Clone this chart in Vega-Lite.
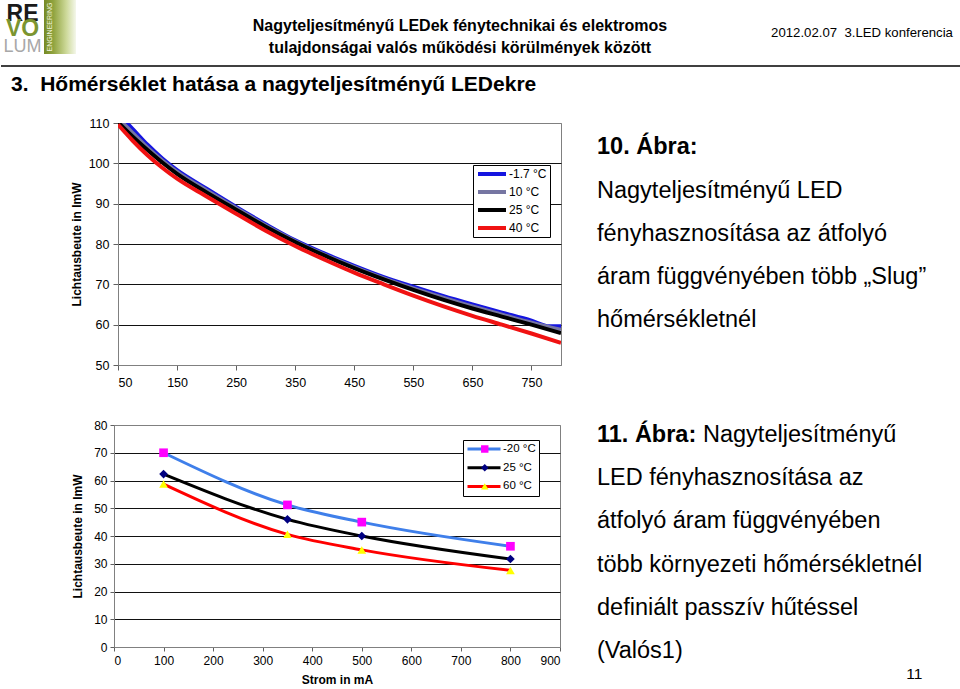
{
  "$schema": "https://vega.github.io/schema/vega-lite/v6.json",
  "background": "white",
  "padding": 0,
  "spacing": 0,
  "resolve": {
    "scale": {"color": "independent", "fill": "independent", "shape": "independent"},
    "legend": {"color": "independent", "fill": "independent", "shape": "independent"}
  },
  "config": {
    "view": {"stroke": null},
    "font": "Liberation Sans",
    "text": {"font": "Liberation Sans", "color": "#000"},
    "axis": {"labelFont": "Liberation Sans", "titleFont": "Liberation Sans", "labelColor": "#000", "titleColor": "#000", "domainColor": "#808080", "tickColor": "#606060"},
    "legend": {"labelFont": "Liberation Sans", "labelColor": "#000"},
    "title": {"font": "Liberation Sans", "color": "#000"}
  },
  "datasets": {
    "c1": [
      {"series": "-1.7 °C", "current": 50, "lm": 112.3}, {"series": "-1.7 °C", "current": 75, "lm": 108.5}, {"series": "-1.7 °C", "current": 100, "lm": 104.6}, {"series": "-1.7 °C", "current": 125, "lm": 101.2}, {"series": "-1.7 °C", "current": 150, "lm": 98.3}, {"series": "-1.7 °C", "current": 200, "lm": 93.7}, {"series": "-1.7 °C", "current": 250, "lm": 89.2}, {"series": "-1.7 °C", "current": 300, "lm": 84.9}, {"series": "-1.7 °C", "current": 350, "lm": 80.9}, {"series": "-1.7 °C", "current": 400, "lm": 77.6}, {"series": "-1.7 °C", "current": 450, "lm": 74.6}, {"series": "-1.7 °C", "current": 500, "lm": 71.8}, {"series": "-1.7 °C", "current": 550, "lm": 69.4}, {"series": "-1.7 °C", "current": 600, "lm": 67.1}, {"series": "-1.7 °C", "current": 650, "lm": 65.0}, {"series": "-1.7 °C", "current": 700, "lm": 63.0}, {"series": "-1.7 °C", "current": 750, "lm": 61.0}, {"series": "-1.7 °C", "current": 780, "lm": 59.6}, {"series": "-1.7 °C", "current": 800, "lm": 59.6},
      {"series": "10 °C", "current": 50, "lm": 111.2}, {"series": "10 °C", "current": 75, "lm": 107.5}, {"series": "10 °C", "current": 100, "lm": 103.9}, {"series": "10 °C", "current": 125, "lm": 100.7}, {"series": "10 °C", "current": 150, "lm": 97.9}, {"series": "10 °C", "current": 200, "lm": 93.3}, {"series": "10 °C", "current": 250, "lm": 88.9}, {"series": "10 °C", "current": 300, "lm": 84.6}, {"series": "10 °C", "current": 350, "lm": 80.7}, {"series": "10 °C", "current": 400, "lm": 77.3}, {"series": "10 °C", "current": 450, "lm": 74.3}, {"series": "10 °C", "current": 500, "lm": 71.5}, {"series": "10 °C", "current": 550, "lm": 69.0}, {"series": "10 °C", "current": 600, "lm": 66.7}, {"series": "10 °C", "current": 650, "lm": 64.5}, {"series": "10 °C", "current": 700, "lm": 62.5}, {"series": "10 °C", "current": 750, "lm": 60.5}, {"series": "10 °C", "current": 800, "lm": 58.7},
      {"series": "25 °C", "current": 50, "lm": 110.2}, {"series": "25 °C", "current": 75, "lm": 106.6}, {"series": "25 °C", "current": 100, "lm": 103.3}, {"series": "25 °C", "current": 125, "lm": 100.2}, {"series": "25 °C", "current": 150, "lm": 97.4}, {"series": "25 °C", "current": 200, "lm": 92.8}, {"series": "25 °C", "current": 250, "lm": 88.5}, {"series": "25 °C", "current": 300, "lm": 84.3}, {"series": "25 °C", "current": 350, "lm": 80.5}, {"series": "25 °C", "current": 400, "lm": 77.1}, {"series": "25 °C", "current": 450, "lm": 74.0}, {"series": "25 °C", "current": 500, "lm": 71.2}, {"series": "25 °C", "current": 550, "lm": 68.6}, {"series": "25 °C", "current": 600, "lm": 66.2}, {"series": "25 °C", "current": 650, "lm": 64.0}, {"series": "25 °C", "current": 700, "lm": 62.0}, {"series": "25 °C", "current": 750, "lm": 60.0}, {"series": "25 °C", "current": 800, "lm": 57.9},
      {"series": "40 °C", "current": 50, "lm": 109.6}, {"series": "40 °C", "current": 75, "lm": 105.6}, {"series": "40 °C", "current": 100, "lm": 102.0}, {"series": "40 °C", "current": 125, "lm": 98.9}, {"series": "40 °C", "current": 150, "lm": 96.2}, {"series": "40 °C", "current": 200, "lm": 91.8}, {"series": "40 °C", "current": 250, "lm": 87.5}, {"series": "40 °C", "current": 300, "lm": 83.3}, {"series": "40 °C", "current": 350, "lm": 79.5}, {"series": "40 °C", "current": 400, "lm": 76.1}, {"series": "40 °C", "current": 450, "lm": 72.9}, {"series": "40 °C", "current": 500, "lm": 70.0}, {"series": "40 °C", "current": 550, "lm": 67.2}, {"series": "40 °C", "current": 600, "lm": 64.6}, {"series": "40 °C", "current": 650, "lm": 62.2}, {"series": "40 °C", "current": 700, "lm": 60.0}, {"series": "40 °C", "current": 750, "lm": 57.8}, {"series": "40 °C", "current": 800, "lm": 55.5}
    ],
    "c2": [
      {"series": "-20 °C", "current": 100, "lm": 70}, {"series": "-20 °C", "current": 350, "lm": 51.2}, {"series": "-20 °C", "current": 500, "lm": 45}, {"series": "-20 °C", "current": 800, "lm": 36.3},
      {"series": "25 °C", "current": 100, "lm": 62.3}, {"series": "25 °C", "current": 350, "lm": 46}, {"series": "25 °C", "current": 500, "lm": 40}, {"series": "25 °C", "current": 800, "lm": 31.7},
      {"series": "60 °C", "current": 100, "lm": 58.7}, {"series": "60 °C", "current": 350, "lm": 40.6}, {"series": "60 °C", "current": 500, "lm": 35}, {"series": "60 °C", "current": 800, "lm": 27.6}
    ],
    "logo": [{"part": "RE"}, {"part": "VO"}, {"part": "LUM"}]
  },
  "vconcat": [
    {
      "hconcat": [
        {
          "width": 43, "height": 55,
          "data": {"name": "logo"},
          "encoding": {
            "y": {"field": "part", "type": "ordinal", "sort": ["RE", "VO", "LUM"], "scale": {"type": "point", "padding": 0.774, "align": 0.8625}, "axis": null},
            "text": {"field": "part"}
          },
          "layer": [
            {"transform": [{"filter": "datum.part === 'RE'"}], "mark": {"type": "text", "fontSize": 23, "fontWeight": "bold", "align": "center", "baseline": "alphabetic", "color": "#1a1a1a"}},
            {"transform": [{"filter": "datum.part === 'VO'"}], "mark": {"type": "text", "fontSize": 23, "fontWeight": "bold", "align": "center", "baseline": "alphabetic", "color": "#7b9530"}},
            {"transform": [{"filter": "datum.part === 'LUM'"}], "mark": {"type": "text", "fontSize": 18, "align": "center", "baseline": "alphabetic", "color": "#a8a8a8"}}
          ]
        },
        {
          "width": 32, "height": 54,
          "data": {"values": [{"word": "ENGINEERING"}]},
          "layer": [
            {"mark": {"type": "rect", "color": {"gradient": "linear", "x1": 0, "x2": 1, "y1": 0, "y2": 0, "stops": [{"offset": 0, "color": "#758a25"}, {"offset": 0.3, "color": "#91a440"}, {"offset": 0.7, "color": "#cdd99a"}, {"offset": 1, "color": "#f4f7ea"}]}}, "encoding": {}},
            {"mark": {"type": "text", "angle": 270, "fontSize": 7, "color": "#eef3dc", "align": "center", "baseline": "middle", "dy": -10}, "encoding": {"text": {"field": "word"}}}
          ]
        },
        {
          "width": 768, "height": 65,
          "data": {"values": [{"line": 1, "text": "Nagyteljesítményű LEDek fénytechnikai és elektromos"}, {"line": 2, "text": "tulajdonságai valós működési körülmények között"}]},
          "mark": {"type": "text", "fontSize": 16, "fontWeight": "bold", "align": "center", "baseline": "alphabetic"},
          "encoding": {
            "y": {"field": "line", "type": "ordinal", "scale": {"type": "point", "padding": 1.167, "align": 0.725}, "axis": null},
            "text": {"field": "text"}
          }
        },
        {
          "width": 36, "height": 65,
          "data": {"values": [{"text": "2012.02.07\u00a0 3.LED konferencia"}]},
          "mark": {"type": "text", "fontSize": 13.2, "align": "center", "baseline": "middle"},
          "encoding": {"text": {"field": "text"}}
        }
      ],
      "spacing": 0,
      "bounds": "flush"
    },
    {
      "width": 960, "height": 50,
      "data": {"values": [{"title": "3.\u00a0 Hőmérséklet hatása a nagyteljesítményű LEDekre"}]},
      "layer": [
        {"mark": {"type": "rule", "color": "#404040", "strokeWidth": 2}, "encoding": {"y": {"datum": 1, "type": "quantitative", "scale": {"domain": [0, 1]}, "axis": null}}},
        {"mark": {"type": "text", "align": "left", "baseline": "alphabetic", "fontSize": 21, "fontWeight": "bold", "dx": 10},
         "encoding": {"x": {"datum": 0, "type": "quantitative", "scale": {"domain": [0, 1]}, "axis": null}, "y": {"datum": 0.5, "type": "quantitative", "axis": null}, "text": {"field": "title"}}}
      ]
    },
    {
      "hconcat": [
        {"width": 81, "height": 295, "data": {"values": []}, "mark": "point"},
        {
          "width": 443, "height": 242,
          "view": {"stroke": "#808080"},
          "data": {"name": "c1"},
          "mark": {"type": "line", "strokeWidth": 4, "interpolate": "monotone", "clip": true},
          "encoding": {
            "x": {"field": "current", "type": "quantitative", "scale": {"domain": [50, 800], "nice": false, "zero": false},
              "axis": {"title": null, "values": [50, 150, 250, 350, 450, 550, 650, 750], "grid": false, "tickSize": 5, "labelPadding": 6, "labelFontSize": 12.5}},
            "y": {"field": "lm", "type": "quantitative", "scale": {"domain": [50, 110], "nice": false, "zero": false},
              "axis": {"title": "Lichtausbeute in lmW", "values": [50, 60, 70, 80, 90, 100, 110], "grid": true,
                "gridColor": {"condition": {"test": "datum.value >= 110 || datum.value <= 50", "value": "#808080"}, "value": "#111111"},
                "gridWidth": 1.2, "tickSize": 5, "labelPadding": 4, "labelFontSize": 12.5, "titleFontSize": 12, "titleFontWeight": "bold", "titlePadding": 5}},
            "color": {"field": "series", "type": "nominal",
              "scale": {"domain": ["-1.7 °C", "10 °C", "25 °C", "40 °C"], "range": ["#1515e0", "#7676a2", "#000000", "#f01212"]},
              "legend": {"orient": "none", "legendX": 472, "legendY": 42, "title": null, "symbolType": "stroke", "symbolSize": 784, "symbolStrokeWidth": 4, "labelFontSize": 12, "padding": 3, "strokeColor": "#000", "fillColor": "#fff", "clipHeight": 12, "rowPadding": 6, "labelOffset": 1}}
          }
        },
        {
          "width": 300, "height": 235.8,
          "data": {"values": [
            {"line": 1, "text": "10. Ábra:"},
            {"line": 2, "text": "Nagyteljesítményű LED"},
            {"line": 3, "text": "fényhasznosítása az átfolyó"},
            {"line": 4, "text": "áram függvényében több „Slug”"},
            {"line": 5, "text": "hőmérsékletnél"}
          ]},
          "encoding": {
            "x": {"datum": 0, "type": "quantitative", "scale": {"domain": [0, 1]}, "axis": null},
            "y": {"field": "line", "type": "ordinal", "scale": {"type": "point", "padding": 0.723}, "axis": null},
            "text": {"field": "text"}
          },
          "layer": [
            {"transform": [{"filter": "datum.line === 1"}], "mark": {"type": "text", "align": "left", "baseline": "alphabetic", "fontSize": 23.5, "fontWeight": "bold"}},
            {"transform": [{"filter": "datum.line > 1"}], "mark": {"type": "text", "align": "left", "baseline": "alphabetic", "fontSize": 23.5}}
          ]
        }
      ],
      "spacing": 36,
      "bounds": "flush"
    },
    {
      "hconcat": [
        {"width": 76, "height": 10, "data": {"values": []}, "mark": "point"},
        {
          "width": 446, "height": 222,
          "view": {"stroke": "#808080"},
          "data": {"name": "c2"},
          "encoding": {
            "x": {"field": "current", "type": "quantitative", "scale": {"domain": [0, 900], "nice": false},
              "axis": {"title": "Strom in mA", "values": [0, 100, 200, 300, 400, 500, 600, 700, 800, 900], "grid": false, "tickSize": 4, "labelPadding": 4, "labelFontSize": 12, "titleFontSize": 12, "titleFontWeight": "bold", "titlePadding": 8}},
            "y": {"field": "lm", "type": "quantitative", "scale": {"domain": [0, 80], "nice": false},
              "axis": {"title": "Lichtausbeute in lmW", "values": [0, 10, 20, 30, 40, 50, 60, 70, 80], "grid": true,
                "gridColor": {"condition": {"test": "datum.value >= 80 || datum.value <= 0", "value": "#808080"}, "value": "#111111"},
                "gridWidth": 1.2, "tickSize": 4, "labelPadding": 3, "labelFontSize": 12, "titleFontSize": 12, "titleFontWeight": "bold", "titlePadding": 9}}
          },
          "layer": [
            {"mark": {"type": "line", "strokeWidth": 3, "interpolate": "monotone"},
             "encoding": {"color": {"field": "series", "type": "nominal",
               "scale": {"domain": ["-20 °C", "25 °C", "60 °C"], "range": ["#3f7fea", "#000000", "#ff0000"]},
               "legend": {"orient": "none", "legendX": 462, "legendY": 15, "title": null, "symbolType": "stroke", "symbolSize": 1089, "symbolStrokeWidth": 3, "labelFontSize": 11.5, "padding": 3, "strokeColor": "#000", "fillColor": "#fff", "clipHeight": 12, "rowPadding": 6.7, "labelOffset": 1}}}},
            {"mark": {"type": "point", "filled": true, "size": 75, "strokeWidth": 0, "opacity": 1},
             "encoding": {
               "fill": {"field": "series", "type": "nominal", "scale": {"range": ["#ff00ff", "#000080", "#ffff00"]},
                 "legend": {"orient": "none", "legendX": 462, "legendY": 15, "title": null, "symbolSize": 55, "symbolStrokeWidth": 0, "labelFontSize": 11.5, "labelExpr": "''", "padding": 3, "clipHeight": 12, "rowPadding": 6.7, "labelOffset": 1, "symbolOffset": 13}},
               "shape": {"field": "series", "type": "nominal", "scale": {"range": ["square", "diamond", "triangle-up"]},
                 "legend": {"orient": "none", "legendX": 462, "legendY": 15, "title": null, "symbolSize": 55, "symbolStrokeWidth": 0, "labelFontSize": 11.5, "labelExpr": "''", "padding": 3, "clipHeight": 12, "rowPadding": 6.7, "labelOffset": 1, "symbolOffset": 13}}
             }}
          ]
        },
        {
          "width": 304, "height": 249.9,
          "title": {"text": "11", "orient": "bottom", "anchor": "end", "fontSize": 15.5, "fontWeight": "normal", "baseline": "alphabetic", "offset": 4},
          "data": {"values": [
            {"line": 1, "part": "label", "text": "11. Ábra:"},
            {"line": 1, "part": "rest", "text": "Nagyteljesítményű"},
            {"line": 2, "part": "body", "text": "LED fényhasznosítása az"},
            {"line": 3, "part": "body", "text": "átfolyó áram függvényében"},
            {"line": 4, "part": "body", "text": "több környezeti hőmérsékletnél"},
            {"line": 5, "part": "body", "text": "definiált passzív hűtéssel"},
            {"line": 6, "part": "body", "text": "(Valós1)"}
          ]},
          "encoding": {
            "x": {"datum": 0, "type": "quantitative", "scale": {"domain": [0, 1]}, "axis": null},
            "y": {"field": "line", "type": "ordinal", "scale": {"type": "point", "padding": 0.386}, "axis": null},
            "text": {"field": "text"}
          },
          "layer": [
            {"transform": [{"filter": "datum.part === 'label'"}], "mark": {"type": "text", "align": "left", "baseline": "alphabetic", "fontSize": 23.5, "fontWeight": "bold"}},
            {"transform": [{"filter": "datum.part === 'rest'"}], "mark": {"type": "text", "align": "left", "baseline": "alphabetic", "fontSize": 23.5, "dx": 106}},
            {"transform": [{"filter": "datum.part === 'body'"}], "mark": {"type": "text", "align": "left", "baseline": "alphabetic", "fontSize": 23.5}}
          ]
        }
      ],
      "spacing": 37,
      "bounds": "flush"
    }
  ]
}
